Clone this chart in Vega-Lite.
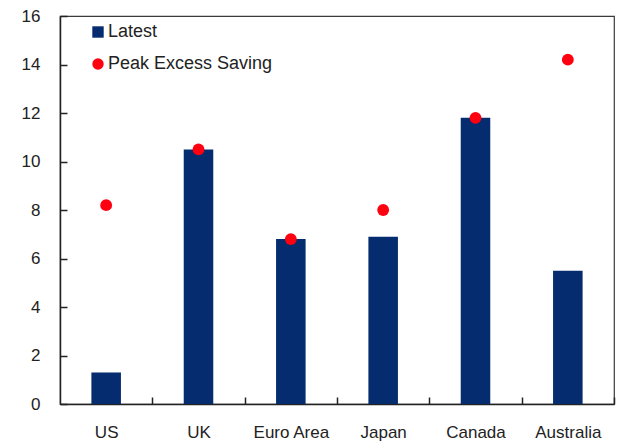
{
  "$schema": "https://vega.github.io/schema/vega-lite/v6.json",
  "width": 554,
  "height": 388,
  "autosize": {"type": "none"},
  "padding": {"left": 60, "top": 16, "right": 3, "bottom": 37},
  "background": "white",
  "config": {
    "font": "Liberation Sans",
    "view": {"stroke": "#3a3a3a", "strokeWidth": 1.2},
    "axis": {
      "grid": false,
      "labelFont": "Liberation Sans",
      "labelFontSize": 17,
      "labelColor": "#222222",
      "domainColor": "#222222",
      "domainWidth": 1.5,
      "tickColor": "#222222",
      "tickWidth": 1.5
    },
    "legend": {
      "labelFont": "Liberation Sans",
      "labelFontSize": 18,
      "labelColor": "#222222",
      "labelLimit": 400
    }
  },
  "data": {
    "values": [
      {"country": "US", "latest": 1.3, "peak": 8.2},
      {"country": "UK", "latest": 10.5, "peak": 10.5},
      {"country": "Euro Area", "latest": 6.8, "peak": 6.8},
      {"country": "Japan", "latest": 6.9, "peak": 8.0},
      {"country": "Canada", "latest": 11.8, "peak": 11.8},
      {"country": "Australia", "latest": 5.5, "peak": 14.2}
    ]
  },
  "encoding": {
    "x": {
      "field": "country",
      "type": "nominal",
      "sort": null,
      "scale": {"paddingInner": 0.68, "paddingOuter": 0.34},
      "axis": {
        "title": null,
        "labelAngle": 0,
        "tickOffset": 46.17,
        "labelOffset": -46.17,
        "tickSize": -7,
        "labelPadding": 27
      }
    }
  },
  "layer": [
    {
      "mark": {"type": "bar", "color": "#052C6E"},
      "encoding": {
        "y": {
          "field": "latest",
          "type": "quantitative",
          "scale": {"domain": [0, 16], "nice": false},
          "axis": {
            "title": null,
            "values": [0, 2, 4, 6, 8, 10, 12, 14, 16],
            "tickSize": -7,
            "labelPadding": 27
          }
        },
        "color": {
          "datum": "Latest",
          "scale": {
            "domain": ["Latest", "Peak Excess Saving"],
            "range": ["#052C6E", "#FF0010"]
          },
          "legend": {
            "title": null,
            "orient": "none",
            "legendX": 29,
            "legendY": 7,
            "padding": 0,
            "symbolSize": 130,
            "symbolStrokeWidth": 0,
            "labelOffset": 1,
            "rowPadding": 14
          }
        }
      }
    },
    {
      "mark": {"type": "point", "filled": true, "size": 140, "opacity": 1},
      "encoding": {
        "y": {"field": "peak", "type": "quantitative"},
        "color": {"datum": "Peak Excess Saving"},
        "shape": {
          "datum": "Peak Excess Saving",
          "scale": {
            "domain": ["Latest", "Peak Excess Saving"],
            "range": ["square", "circle"]
          },
          "legend": {
            "title": null,
            "orient": "none",
            "legendX": 29,
            "legendY": 7,
            "padding": 0,
            "symbolSize": 130,
            "symbolStrokeWidth": 0,
            "labelOffset": 1,
            "rowPadding": 14
          }
        }
      }
    }
  ]
}
